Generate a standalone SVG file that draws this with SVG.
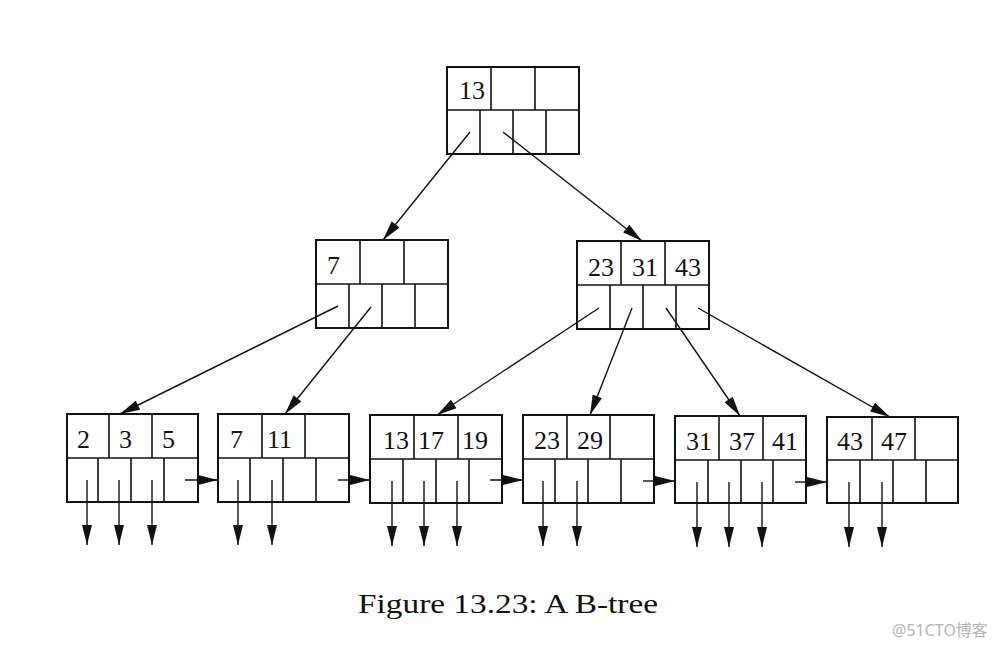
<svg xmlns="http://www.w3.org/2000/svg" width="1000" height="646" viewBox="0 0 1000 646">
<style>
.box{fill:none;stroke:#111;stroke-width:2}
.div{stroke:#111;stroke-width:1.6}
.k{font-family:"Liberation Serif","Times New Roman",serif;font-size:26px;fill:#111}
.e{stroke:#111;stroke-width:1.4;fill:none}
.cap{font-family:"Liberation Serif","Times New Roman",serif;font-size:28px;fill:#111}
.wm{font-family:"Noto Sans","Noto Sans CJK SC",sans-serif;font-size:16px;fill:#b5b5b5}
</style>
<defs>
<marker id="ah" viewBox="0 0 20 10" refX="20" refY="5" markerWidth="21" markerHeight="10" markerUnits="userSpaceOnUse" orient="auto">
<path d="M0,0 L20,5 L0,10 z" fill="#111"/>
</marker>
</defs>
<rect width="1000" height="646" fill="#fff"/>

<g id="root">
<rect class="box" x="447" y="67" width="132" height="87"/>
<line class="div" x1="447" y1="110" x2="579" y2="110"/>
<line class="div" x1="491" y1="67" x2="491" y2="110"/>
<line class="div" x1="535" y1="67" x2="535" y2="110"/>
<line class="div" x1="480" y1="110" x2="480" y2="154"/>
<line class="div" x1="513" y1="110" x2="513" y2="154"/>
<line class="div" x1="546" y1="110" x2="546" y2="154"/>
<text class="k" x="459" y="99">13</text>
</g>

<g id="mid-left">
<rect class="box" x="316" y="240" width="132" height="88"/>
<line class="div" x1="316" y1="284" x2="448" y2="284"/>
<line class="div" x1="360" y1="240" x2="360" y2="284"/>
<line class="div" x1="404" y1="240" x2="404" y2="284"/>
<line class="div" x1="349" y1="284" x2="349" y2="328"/>
<line class="div" x1="382" y1="284" x2="382" y2="328"/>
<line class="div" x1="415" y1="284" x2="415" y2="328"/>
<text class="k" x="327" y="274">7</text>
</g>

<g id="mid-right">
<rect class="box" x="577" y="241" width="132" height="88"/>
<line class="div" x1="577" y1="285" x2="709" y2="285"/>
<line class="div" x1="621" y1="241" x2="621" y2="285"/>
<line class="div" x1="665" y1="241" x2="665" y2="285"/>
<line class="div" x1="610" y1="285" x2="610" y2="329"/>
<line class="div" x1="643" y1="285" x2="643" y2="329"/>
<line class="div" x1="676" y1="285" x2="676" y2="329"/>
<text class="k" x="588" y="276">23</text>
<text class="k" x="632" y="276">31</text>
<text class="k" x="675" y="276">43</text>
</g>

<g id="leaf1">
<rect class="box" x="67" y="414" width="131" height="88"/>
<line class="div" x1="67" y1="458" x2="198" y2="458"/>
<line class="div" x1="109" y1="414" x2="109" y2="458"/>
<line class="div" x1="152" y1="414" x2="152" y2="458"/>
<line class="div" x1="98" y1="458" x2="98" y2="502"/>
<line class="div" x1="131" y1="458" x2="131" y2="502"/>
<line class="div" x1="164" y1="458" x2="164" y2="502"/>
<text class="k" x="77" y="448">2</text>
<text class="k" x="119" y="448">3</text>
<text class="k" x="162" y="448">5</text>
</g>

<g id="leaf2">
<rect class="box" x="218" y="414" width="131" height="88"/>
<line class="div" x1="218" y1="458" x2="349" y2="458"/>
<line class="div" x1="262" y1="414" x2="262" y2="458"/>
<line class="div" x1="305" y1="414" x2="305" y2="458"/>
<line class="div" x1="250" y1="458" x2="250" y2="502"/>
<line class="div" x1="283" y1="458" x2="283" y2="502"/>
<line class="div" x1="316" y1="458" x2="316" y2="502"/>
<text class="k" x="230" y="448">7</text>
<text class="k" x="267" y="448">11</text>
</g>

<g id="leaf3">
<rect class="box" x="370" y="415" width="132" height="88"/>
<line class="div" x1="370" y1="459" x2="502" y2="459"/>
<line class="div" x1="414" y1="415" x2="414" y2="459"/>
<line class="div" x1="458" y1="415" x2="458" y2="459"/>
<line class="div" x1="403" y1="459" x2="403" y2="503"/>
<line class="div" x1="436" y1="459" x2="436" y2="503"/>
<line class="div" x1="469" y1="459" x2="469" y2="503"/>
<text class="k" x="383" y="449">13</text>
<text class="k" x="418" y="449">17</text>
<text class="k" x="462" y="449">19</text>
</g>

<g id="leaf4">
<rect class="box" x="523" y="415" width="131" height="88"/>
<line class="div" x1="523" y1="459" x2="654" y2="459"/>
<line class="div" x1="567" y1="415" x2="567" y2="459"/>
<line class="div" x1="610" y1="415" x2="610" y2="459"/>
<line class="div" x1="555" y1="459" x2="555" y2="503"/>
<line class="div" x1="588" y1="459" x2="588" y2="503"/>
<line class="div" x1="621" y1="459" x2="621" y2="503"/>
<text class="k" x="534" y="449">23</text>
<text class="k" x="577" y="449">29</text>
</g>

<g id="leaf5">
<rect class="box" x="675" y="416" width="131" height="87"/>
<line class="div" x1="675" y1="460" x2="806" y2="460"/>
<line class="div" x1="719" y1="416" x2="719" y2="460"/>
<line class="div" x1="763" y1="416" x2="763" y2="460"/>
<line class="div" x1="708" y1="460" x2="708" y2="503"/>
<line class="div" x1="741" y1="460" x2="741" y2="503"/>
<line class="div" x1="773" y1="460" x2="773" y2="503"/>
<text class="k" x="686" y="450">31</text>
<text class="k" x="729" y="450">37</text>
<text class="k" x="772" y="450">41</text>
</g>

<g id="leaf6">
<rect class="box" x="827" y="417" width="131" height="86"/>
<line class="div" x1="827" y1="460" x2="958" y2="460"/>
<line class="div" x1="872" y1="417" x2="872" y2="460"/>
<line class="div" x1="915" y1="417" x2="915" y2="460"/>
<line class="div" x1="860" y1="460" x2="860" y2="503"/>
<line class="div" x1="893" y1="460" x2="893" y2="503"/>
<line class="div" x1="926" y1="460" x2="926" y2="503"/>
<text class="k" x="837" y="450">43</text>
<text class="k" x="881" y="450">47</text>
</g>

<g id="connectors" class="e" marker-end="url(#ah)">
<line x1="470" y1="132" x2="383" y2="240"/>
<line x1="503" y1="132" x2="642" y2="241"/>
<line x1="338" y1="306" x2="120" y2="414"/>
<line x1="371" y1="307" x2="285" y2="414"/>
<line x1="599" y1="308" x2="437" y2="415"/>
<line x1="632" y1="308" x2="590" y2="415"/>
<line x1="666" y1="308" x2="740" y2="416"/>
<line x1="698" y1="308" x2="890" y2="417"/>
<line x1="185" y1="480" x2="218" y2="480"/>
<line x1="338" y1="480" x2="370" y2="480"/>
<line x1="490" y1="480" x2="523" y2="480"/>
<line x1="643" y1="481" x2="675" y2="481"/>
<line x1="795" y1="482" x2="827" y2="482"/>
<line x1="87" y1="480" x2="87" y2="545"/>
<line x1="119" y1="480" x2="119" y2="545"/>
<line x1="152" y1="480" x2="152" y2="545"/>
<line x1="238" y1="480" x2="238" y2="545"/>
<line x1="272" y1="480" x2="272" y2="545"/>
<line x1="392" y1="481" x2="392" y2="546"/>
<line x1="424" y1="481" x2="424" y2="546"/>
<line x1="457" y1="481" x2="457" y2="546"/>
<line x1="543" y1="481" x2="543" y2="546"/>
<line x1="577" y1="481" x2="577" y2="546"/>
<line x1="697" y1="482" x2="697" y2="547"/>
<line x1="729" y1="482" x2="729" y2="547"/>
<line x1="762" y1="482" x2="762" y2="547"/>
<line x1="849" y1="482" x2="849" y2="547"/>
<line x1="882" y1="482" x2="882" y2="547"/>
</g>

<text class="cap" x="358" y="613" textLength="300" lengthAdjust="spacingAndGlyphs">Figure 13.23: A B-tree</text>
<text class="wm" x="892" y="636">@51CTO博客</text>
</svg>
